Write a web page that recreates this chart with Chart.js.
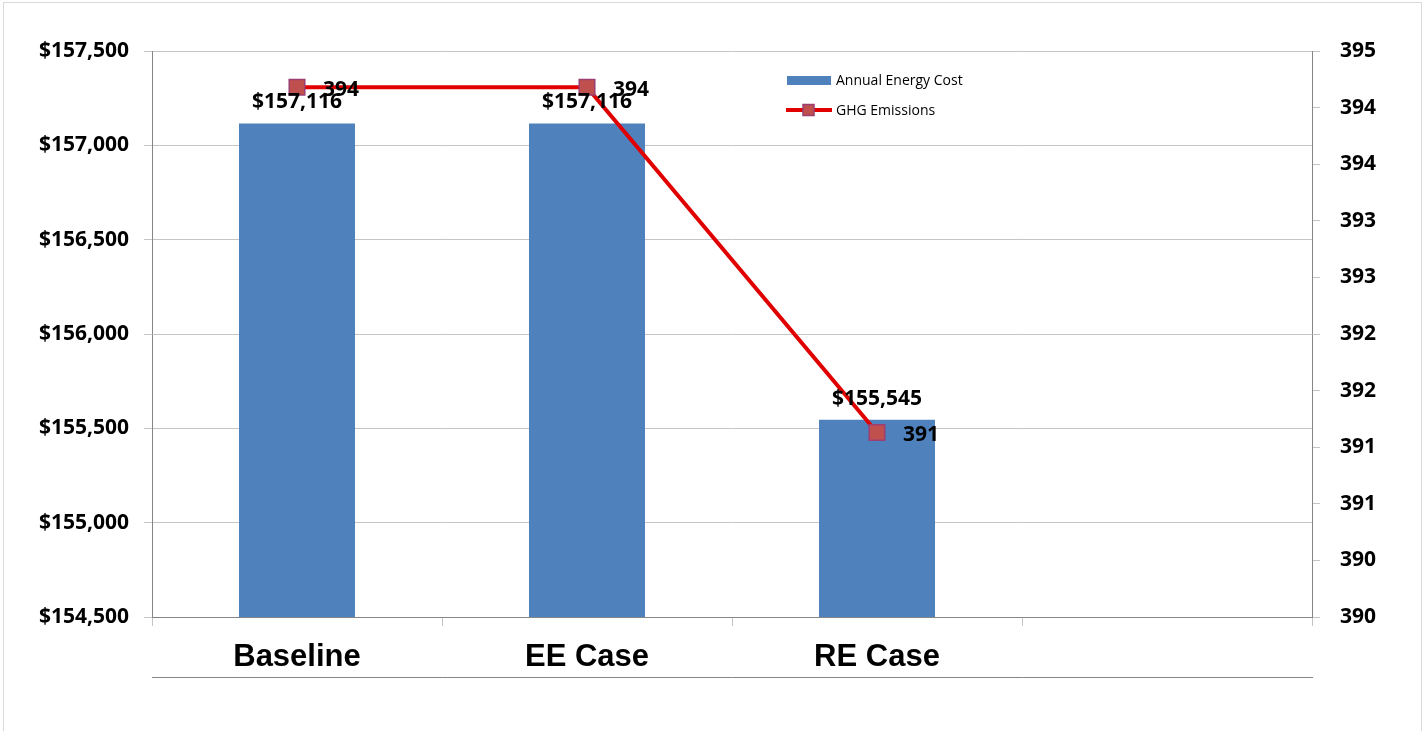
<!DOCTYPE html>
<html>
<head>
<meta charset="utf-8">
<title>Annual Energy Cost and GHG Emissions</title>
<script src="https://cdn.jsdelivr.net/npm/chart.js@4.4.0/dist/chart.umd.min.js"></script>
<style>
  html, body { margin: 0; padding: 0; background: #fff; }
  #wrap { width: 1424px; height: 731px; }
</style>
</head>
<body>
<div id="wrap"><canvas id="chart" width="1424" height="731"></canvas></div>
<script>
// chart values
const categories = ['Baseline', 'EE Case', 'RE Case', ''];
const energyCost = [157116, 157116, 155545, null];
const ghgEmissions = [394.28, 394.28, 391.23, null];
const ghgTicks = [389.6, 390.1, 390.6, 391.1, 391.6, 392.1, 392.6, 393.1, 393.6, 394.1, 394.6];

const tickFont = { family: '"Open Sans", "Noto Sans", sans-serif', size: 21, weight: 'bold' };
const axisGray = '#868686';
const gridGray = '#c4c4c4';

// white page + thin frame round the whole chart
const frame = {
  id: 'frame',
  beforeDraw(chart) {
    const ctx = chart.ctx;
    ctx.save();
    ctx.fillStyle = '#fff';
    ctx.fillRect(0, 0, chart.width, chart.height);
    ctx.strokeStyle = '#d9d9d9';
    ctx.lineWidth = 1;
    ctx.strokeRect(3.5, 2.5, chart.width - 6, chart.height + 10);
    ctx.restore();
  }
};

// value labels on bars and points
const valueLabels = {
  id: 'valueLabels',
  afterDatasetsDraw(chart) {
    const ctx = chart.ctx;
    ctx.save();
    ctx.font = 'bold 21px "Open Sans", "Noto Sans", sans-serif';
    ctx.fillStyle = '#000';
    ctx.textBaseline = 'middle';
    const bars = chart.getDatasetMeta(chart.data.datasets.findIndex(d => d.type === 'bar'));
    bars.data.forEach((bar, i) => {
      if (energyCost[i] == null) return;
      ctx.textAlign = 'center';
      ctx.fillText('$' + energyCost[i].toLocaleString('en-US'), bar.x, bar.y - 21);
    });
    const pts = chart.getDatasetMeta(chart.data.datasets.findIndex(d => d.type === 'line'));
    pts.data.forEach((pt, i) => {
      if (ghgEmissions[i] == null) return;
      ctx.textAlign = 'left';
      ctx.fillText(ghgEmissions[i].toFixed(0), pt.x + 26, pt.y + 3);
    });
    ctx.restore();
  }
};

// legend drawn inside the plot, upper right
const cornerLegend = {
  id: 'cornerLegend',
  afterDraw(chart) {
    const ctx = chart.ctx;
    const area = chart.chartArea;
    const x = area.left + 635;
    const y = area.top + 29;
    const bar = chart.data.datasets.find(d => d.type === 'bar');
    const line = chart.data.datasets.find(d => d.type === 'line');
    ctx.save();
    ctx.font = '14px "Open Sans", "Noto Sans", sans-serif';
    ctx.textBaseline = 'middle';
    ctx.textAlign = 'left';
    ctx.fillStyle = bar.backgroundColor;
    ctx.fillRect(x, y - 4, 44, 9);
    ctx.fillStyle = '#000';
    ctx.fillText(bar.label, x + 49, y + 1);

    const y2 = y + 30;
    ctx.strokeStyle = line.borderColor;
    ctx.lineWidth = 4;
    ctx.beginPath();
    ctx.moveTo(x - 1, y2);
    ctx.lineTo(x + 45, y2);
    ctx.stroke();
    ctx.fillStyle = line.pointBackgroundColor;
    ctx.strokeStyle = line.pointBorderColor;
    ctx.lineWidth = 1.5;
    ctx.fillRect(x + 16, y2 - 5.5, 11, 11);
    ctx.strokeRect(x + 16, y2 - 5.5, 11, 11);
    ctx.fillStyle = '#000';
    ctx.fillText(line.label, x + 49, y2 + 1);
    ctx.restore();
  }
};

const ctx = document.getElementById('chart').getContext('2d');
new Chart(ctx, {
  data: {
    labels: categories,
    datasets: [
      {
        type: 'line',
        label: 'GHG Emissions',
        data: ghgEmissions,
        yAxisID: 'y1',
        order: 0,
        borderColor: '#e00000',
        borderWidth: 4,
        pointStyle: 'rect',
        pointRadius: 11,
        pointHoverRadius: 11,
        pointBackgroundColor: '#c0504d',
        pointBorderColor: '#9b3f72',
        pointBorderWidth: 1.5,
        tension: 0
      },
      {
        type: 'bar',
        label: 'Annual Energy Cost',
        data: energyCost,
        yAxisID: 'y',
        order: 1,
        backgroundColor: '#4f81bd',
        barPercentage: 0.4,
        categoryPercentage: 1.0
      }
    ]
  },
  options: {
    responsive: false,
    animation: false,
    layout: { padding: { left: 0, right: 0, top: 51, bottom: 54 } },
    plugins: {
      legend: { display: false },
      tooltip: { enabled: false }
    },
    scales: {
      x: {
        type: 'category',
        position: 'bottom',
        grid: { offset: true, drawOnChartArea: false, drawTicks: true, tickLength: 9, color: gridGray },
        border: { color: axisGray, width: 1 },
        ticks: {
          color: '#000',
          padding: 13,
          maxRotation: 0,
          font: { family: '"Liberation Sans", Arial, sans-serif', size: 31, weight: 'bold' }
        },
        afterFit(s) { s.height = 60; }
      },
      x2: {
        type: 'category',
        position: 'bottom',
        grid: { display: false, drawTicks: false },
        ticks: { display: false },
        border: { display: true, color: axisGray, width: 1 },
        afterFit(s) { s.height = 0; }
      },
      y: {
        position: 'left',
        min: 154500,
        max: 157500,
        grid: { color: gridGray, tickLength: 8 },
        border: { color: axisGray, width: 1 },
        ticks: {
          stepSize: 500,
          color: '#000',
          padding: 15,
          font: tickFont,
          callback: v => '$' + v.toLocaleString('en-US')
        },
        afterFit(s) { s.width = 152; }
      },
      y1: {
        position: 'right',
        min: ghgTicks[0],
        max: ghgTicks[ghgTicks.length - 1],
        grid: { drawOnChartArea: false, color: gridGray, tickLength: 8 },
        border: { color: axisGray, width: 1 },
        afterBuildTicks(s) { s.ticks = ghgTicks.map(v => ({ value: v })); },
        ticks: {
          color: '#000',
          padding: 20,
          font: tickFont,
          callback: v => Number(v).toFixed(0)
        },
        afterFit(s) { s.width = 112; }
      }
    }
  },
  plugins: [frame, valueLabels, cornerLegend]
});
</script>
</body>
</html>
